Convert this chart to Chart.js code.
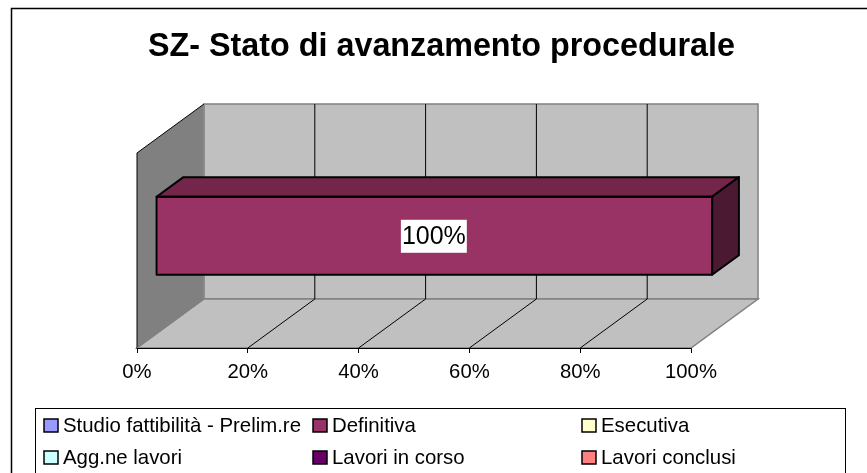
<!DOCTYPE html>
<html>
<head>
<meta charset="utf-8">
<style>
  html, body { margin: 0; padding: 0; background: #fff; }
  canvas { display: block; }
</style>
<script src="https://cdn.jsdelivr.net/npm/chart.js@4"></script>
</head>
<body>
<canvas id="chart" width="867" height="473"></canvas>
<script>
const titleText = 'SZ- Stato di avanzamento procedurale';
const categories = ['SZ'];
const seriesNames = ['Studio fattibilità - Prelim.re', 'Definitiva', 'Esecutiva', 'Agg.ne lavori', 'Lavori in corso', 'Lavori conclusi'];
const seriesValues = [[0], [100], [0], [0], [0], [0]];
const seriesColors = ['#9999FF', '#993366', '#FFFFCC', '#CCFFFF', '#660066', '#FF8080'];
const xTicks = [0, 20, 40, 60, 80, 100];

const font = 'Liberation Sans';
// how far the back wall sits behind the front plane of the 3D box
const depthX = 67, depthY = 49;

const box3d = {
  id: 'box3d',
  beforeDraw(chart) {
    const { ctx } = chart;
    ctx.save();
    ctx.fillStyle = '#fff';
    ctx.fillRect(0, 0, chart.width, chart.height);
    // chart frame, its right and bottom sides fall outside the picture
    ctx.strokeStyle = '#000';
    ctx.lineWidth = 1.5;
    ctx.strokeRect(11.5, 8.5, 880, 480);
    ctx.restore();
  },
  beforeDatasetsDraw(chart) {
    const { ctx, chartArea: a, scales: { x } } = chart;
    const l = a.left, r = a.right, t = a.top, b = a.bottom;
    const poly = (pts, fill, stroke, w) => {
      ctx.beginPath();
      pts.forEach((p, i) => i ? ctx.lineTo(p[0], p[1]) : ctx.moveTo(p[0], p[1]));
      ctx.closePath();
      if (fill) { ctx.fillStyle = fill; ctx.fill(); }
      if (stroke) { ctx.strokeStyle = stroke; ctx.lineWidth = w; ctx.stroke(); }
    };
    const line = (x1, y1, x2, y2, c, w) => {
      ctx.beginPath();
      ctx.moveTo(x1, y1);
      ctx.lineTo(x2, y2);
      ctx.strokeStyle = c;
      ctx.lineWidth = w;
      ctx.stroke();
    };
    ctx.save();
    // back wall, floor, side wall
    poly([[l + depthX, t - depthY], [r + depthX, t - depthY], [r + depthX, b - depthY], [l + depthX, b - depthY]], '#C0C0C0', '#808080', 1.5);
    poly([[l, b], [r, b], [r + depthX, b - depthY], [l + depthX, b - depthY]], '#C0C0C0', '#808080', 1.5);
    poly([[l, t], [l + depthX, t - depthY], [l + depthX, b - depthY], [l, b]], '#808080', null);
    line(l + depthX, t - depthY, l + depthX, b - depthY, '#8c8c8c', 1.5);
    line(l, t, l + depthX, t - depthY, '#000', 1);
    line(l, t, l, b, '#000', 1);
    line(l, b, l + depthX, b - depthY, '#808080', 1);
    // the floor outline covers the axis line, so put it back
    line(l - 0.5, b + 0.5, r + 0.5, b + 0.5, '#000', 1);
    // gridlines on floor and back wall
    xTicks.slice(1, -1).forEach(v => {
      const px = x.getPixelForValue(v);
      line(px, b, px + depthX, b - depthY, '#000', 1);
      line(px + depthX, b - depthY, px + depthX, t - depthY, '#000', 1);
    });
    ctx.restore();
  },
  // bars stand in the middle of the depth, 0.3 of the way back
  beforeDatasetDraw(chart) {
    chart.ctx.save();
    chart.ctx.translate(depthX * 0.3, -depthY * 0.3);
  },
  afterDatasetDraw(chart) {
    chart.ctx.restore();
  },
  afterDatasetsDraw(chart) {
    const { ctx } = chart;
    const ox = depthX * 0.3, oy = -depthY * 0.3;
    const bx = depthX * 0.4, by = -depthY * 0.4;
    chart.data.datasets.forEach((ds, i) => {
      if (!ds.data[0]) return;
      const bar = chart.getDatasetMeta(i).data[0];
      const x0 = bar.base + ox - 1, x1 = bar.x + ox + 1;
      const y0 = bar.y - bar.height / 2 + oy, y1 = bar.y + bar.height / 2 + oy;
      ctx.save();
      ctx.strokeStyle = '#000';
      ctx.lineWidth = 2;
      ctx.lineJoin = 'round';
      // top face
      ctx.beginPath();
      ctx.moveTo(x0, y0);
      ctx.lineTo(x0 + bx, y0 + by);
      ctx.lineTo(x1 + bx, y0 + by);
      ctx.lineTo(x1, y0);
      ctx.closePath();
      ctx.fillStyle = '#732649';
      ctx.fill();
      ctx.stroke();
      // end face
      ctx.beginPath();
      ctx.moveTo(x1, y0);
      ctx.lineTo(x1 + bx, y0 + by);
      ctx.lineTo(x1 + bx, y1 + by);
      ctx.lineTo(x1, y1);
      ctx.closePath();
      ctx.fillStyle = '#4C1933';
      ctx.fill();
      ctx.stroke();
      // outline of the front face
      ctx.strokeRect(x0, y0, x1 - x0, y1 - y0);
      // value label
      const cx = (x0 + x1) / 2 - 0.5, cy = (y0 + y1) / 2;
      const label = ds.data[0] + '%';
      ctx.font = '25px "' + font + '"';
      const w = ctx.measureText(label).width;
      ctx.fillStyle = '#fff';
      ctx.fillRect(cx - w / 2 - 1, cy - 16, w + 2, 33);
      ctx.fillStyle = '#000';
      ctx.textAlign = 'center';
      ctx.textBaseline = 'middle';
      ctx.fillText(label, cx, cy + 1);
      ctx.restore();
    });
  },
  afterDraw(chart) {
    // legend laid out on the fixed three column grid
    const { ctx } = chart;
    ctx.save();
    ctx.strokeStyle = '#000';
    ctx.lineWidth = 1;
    ctx.fillStyle = '#fff';
    ctx.fillRect(35.5, 408.5, 810, 80);
    ctx.strokeRect(35.5, 408.5, 810, 80);
    ctx.font = '20.4px "' + font + '"';
    ctx.textBaseline = 'middle';
    chart.data.datasets.forEach((ds, i) => {
      const col = i % 3, row = Math.floor(i / 3);
      const lx = 44 + col * 269, ly = 425.5 + row * 32;
      ctx.fillStyle = ds.backgroundColor;
      ctx.fillRect(lx, ly - 6.5, 14, 13);
      ctx.lineWidth = 1.5;
      ctx.strokeRect(lx, ly - 6.5, 14, 13);
      ctx.fillStyle = '#000';
      ctx.fillText(ds.label, lx + 19, ly + 0.5);
    });
    ctx.restore();
  }
};

new Chart(document.getElementById('chart'), {
  type: 'bar',
  plugins: [box3d, {
    id: 'titleCentre',
    afterLayout(chart) {
      chart.titleBlock.left = 11;
      chart.titleBlock.right = 872;
    }
  }],
  data: {
    labels: categories,
    datasets: seriesNames.map((name, i) => ({
      label: name,
      data: seriesValues[i],
      backgroundColor: seriesColors[i],
      borderWidth: 0,
      clip: false,
      categoryPercentage: 0.4,
      barPercentage: 1
    }))
  },
  options: {
    indexAxis: 'y',
    responsive: false,
    animation: false,
    layout: { padding: { left: 137, right: 176, top: 0, bottom: 85 } },
    plugins: {
      legend: { display: false },
      tooltip: { enabled: false },
      title: {
        display: true,
        text: titleText,
        color: '#000',
        font: { family: font, size: 32.3, weight: 'bold', lineHeight: 1.2 },
        padding: { top: 28, bottom: 86.2 }
      }
    },
    scales: {
      y: { display: false, stacked: true },
      x: {
        stacked: true,
        min: 0,
        max: 100,
        afterFit(s) { s.height = 40; },
        afterBuildTicks(s) { s.ticks = xTicks.map(v => ({ value: v })); },
        border: { display: true, color: '#000', width: 1 },
        grid: { drawOnChartArea: false, drawTicks: true, tickLength: 5, color: '#000' },
        ticks: {
          autoSkip: false,
          maxRotation: 0,
          padding: 7,
          color: '#000',
          font: { family: font, size: 20.3 },
          callback: v => v + '%'
        }
      }
    }
  }
});
</script>
</body>
</html>
